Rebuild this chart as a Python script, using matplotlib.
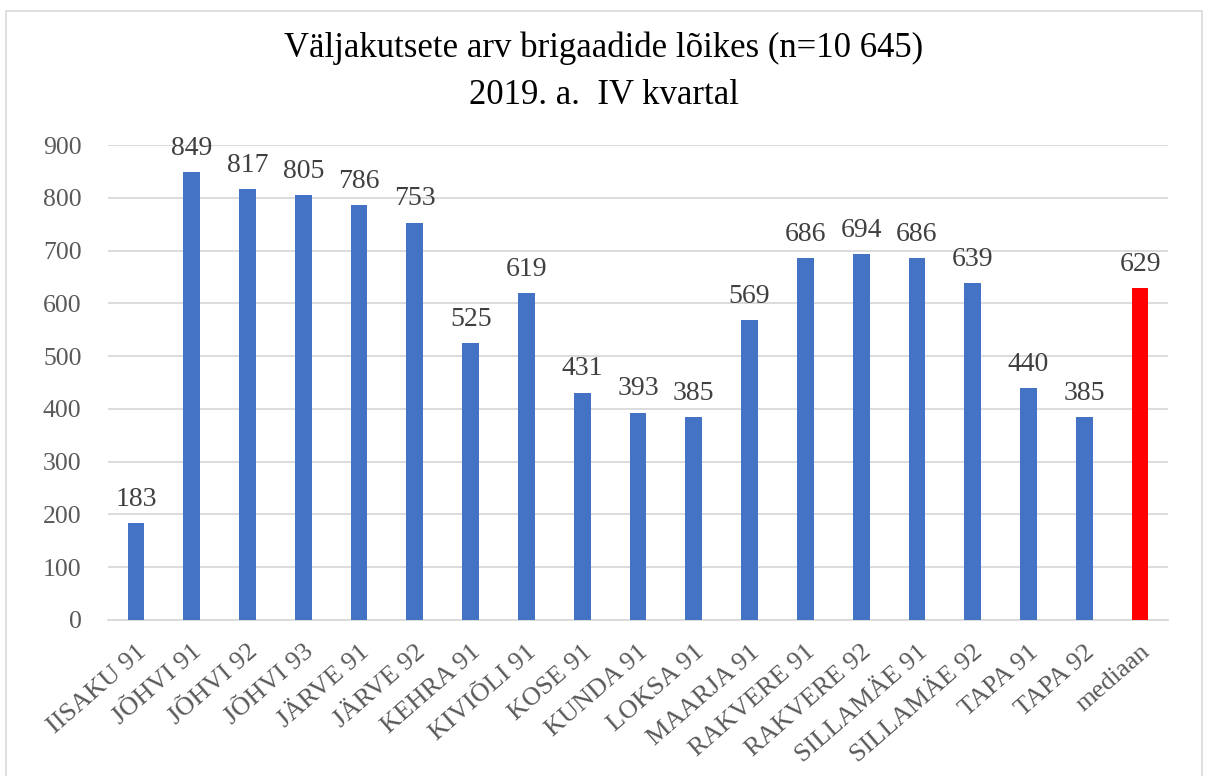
import matplotlib
matplotlib.use("Agg")
import matplotlib.pyplot as plt
from matplotlib.patches import Rectangle

categories = ["IISAKU 91", "JÕHVI 91", "JÕHVI 92", "JÕHVI 93", "JÄRVE 91", "JÄRVE 92",
              "KEHRA 91", "KIVIÕLI 91", "KOSE 91", "KUNDA 91", "LOKSA 91", "MAARJA 91",
              "RAKVERE 91", "RAKVERE 92", "SILLAMÄE 91", "SILLAMÄE 92", "TAPA 91", "TAPA 92",
              "mediaan"]
values = [183, 849, 817, 805, 786, 753, 525, 619, 431, 393, 385, 569,
          686, 694, 686, 639, 440, 385, 629]
bar_colors = ["#4472C4"] * 18 + ["#FF0000"]
yticks = [0, 100, 200, 300, 400, 500, 600, 700, 800, 900]

plt.rcParams['font.family'] = ['Liberation Serif', 'DejaVu Serif']
W, H = 1208, 776
fig = plt.figure(figsize=(W / 100, H / 100), dpi=100)
ax = fig.add_axes([108 / W, 1 - 620 / H, 1060 / W, 475 / H])

x = list(range(len(categories)))
ax.bar(x, values, width=0.3, color=bar_colors, zorder=3)
for xi, v in zip(x, values):
    ax.annotate(str(v), (xi, v), xytext=(0, 8), textcoords='offset points',
                ha='center', va='bottom', fontsize=20, color='#404040')

ax.set_xlim(-0.5, len(categories) - 0.5)
ax.set_ylim(0, 900)
ax.set_yticks(yticks)
ax.set_yticklabels([str(t) for t in yticks], fontsize=18.5, color='#595959')
ax.set_xticks(x)
ax.set_xticklabels(categories, rotation=41, ha='right', rotation_mode='anchor',
                   fontsize=19, color='#595959')
ax.tick_params(axis='both', length=0)
ax.tick_params(axis='y', pad=19)
ax.tick_params(axis='x', pad=15)
ax.grid(axis='y', color='#D9D9D9', linewidth=1.3, zorder=0)
for s in ['top', 'right', 'left']:
    ax.spines[s].set_visible(False)
ax.spines['bottom'].set_color('#D9D9D9')
ax.spines['bottom'].set_linewidth(1.3)

fig.text(0.5, 1 - 48 / H, "Väljakutsete arv brigaadide lõikes (n=10 645)", ha='center', va='center',
         fontsize=25, color='#000000')
fig.text(0.5, 1 - 95 / H, "2019. a.  IV kvartal", ha='center', va='center',
         fontsize=25, color='#000000')

fig.patches.append(Rectangle((6 / W, -0.01), 1196 / W, 1 - 11 / H + 0.01, transform=fig.transFigure,
                             fill=False, edgecolor='#D9D9D9', linewidth=1.2))

fig.savefig("out.png", dpi=100)
